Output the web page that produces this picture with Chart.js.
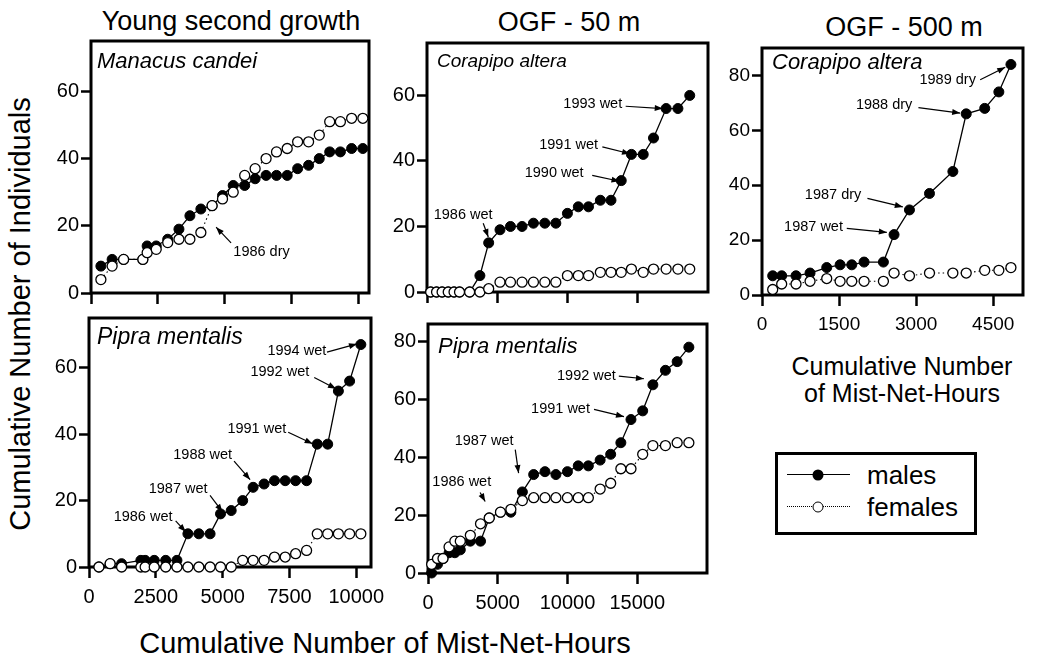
<!DOCTYPE html>
<html>
<head>
<meta charset="utf-8">
<script src="https://cdn.jsdelivr.net/npm/chart.js@4.4.1/dist/chart.umd.min.js"></script>
<style>
    body { margin: 0; width: 1048px; height: 661px; position: relative; overflow: hidden; background: #fff;
           font-family: "Liberation Sans", Arial, sans-serif; color: #000; }
    canvas { position: absolute; }
    .txt { position: absolute; white-space: nowrap; line-height: 1; transform: translate(-50%, -50%); }
    .legend-box { position: absolute; left: 775px; top: 452px; width: 202px; height: 83px; border: 3px solid #000; box-sizing: border-box; }
    .swatch { position: absolute; width: 63px; height: 0; }
    .dot { position: absolute; width: 11px; height: 11px; border-radius: 50%; box-sizing: border-box; transform: translate(-50%, -50%); }
</style>
</head>
<body>

<div class="txt" style="left:231px; top:21px; font-size:27px;">Young second growth</div>
<div class="txt" style="left:569px; top:22px; font-size:27px;">OGF - 50 m</div>
<div class="txt" style="left:904px; top:27px; font-size:27px;">OGF - 500 m</div>

<div class="txt" style="left:20px; top:314px; font-size:29px; transform: translate(-50%, -50%) rotate(-90deg);">Cumulative Number of Individuals</div>
<div class="txt" style="left:385px; top:643px; font-size:29px;">Cumulative Number of Mist-Net-Hours</div>
<div class="txt" style="left:902px; top:366px; font-size:25px;">Cumulative Number</div>
<div class="txt" style="left:902px; top:393px; font-size:25px;">of Mist-Net-Hours</div>

<canvas id="panel-a"></canvas>
<canvas id="panel-b"></canvas>
<canvas id="panel-c"></canvas>
<canvas id="panel-d"></canvas>
<canvas id="panel-e"></canvas>

<div class="legend-box"></div>
<div class="swatch" style="left:787px; top:474px; border-top:1.5px solid #000;"></div>
<div class="dot" style="left:818px; top:475px; background:#000;"></div>
<div class="txt" style="left:867px; top:475px; font-size:26px; transform: translate(0, -50%);">males</div>
<div class="swatch" style="left:787px; top:506px; border-top:1.5px dotted #000;"></div>
<div class="dot" style="left:818px; top:507px; background:#fff; border:1.5px solid #000;"></div>
<div class="txt" style="left:867px; top:507px; font-size:26px; transform: translate(0, -50%);">females</div>

<script>
const FONT = '"Liberation Sans", Arial, sans-serif';

// cumulative mist-net-hours at each sample, per site
const hoursYSG = [370, 790, 1220, 1940, 2100, 2440, 2870, 3290, 3700, 4110, 4530, 4920, 5320,
    5750, 6140, 6550, 6940, 7340, 7730, 8140, 8540, 8930, 9330, 9750, 10170];
const hoursOGF50 = [260, 680, 1075, 1510, 1925, 2315, 3035, 3765, 4390, 5195, 5940, 6765, 7575,
    8385, 9170, 9995, 10770, 11495, 12340, 13095, 13825, 14550, 15390, 16120, 17020, 17860, 18700];
const hoursOGF500 = [208, 383, 662, 935, 1260, 1520, 1747, 1987, 2363, 2570, 2870, 3260, 3715,
    3975, 4335, 4610, 4845];

// cumulative number of individuals
const manacusMales = [8, 10, 10, 10, 14, 14, 16, 19, 23, 25, 26, 29, 32, 32, 34, 35, 35, 35, 37, 38, 40, 42, 42, 43, 43];
const manacusFemales = [4, 8, 10, 10, 12, 13, 15, 16, 16, 18, 26, 28, 30, 35, 37, 40, 42, 43, 45, 45, 47, 51, 51, 52, 52];

const pipraYsgMales = [0, 1, 1, 2, 2, 2, 2, 2, 10, 10, 10, 16, 17, 20, 24, 25, 26, 26, 26, 26, 37, 37, 53, 56, 67];
const pipraYsgFemales = [0, 1, 0, 0, 0, 0, 0, 0, 0, 0, 0, 0, 0, 2, 2, 2, 3, 3, 4, 5, 10, 10, 10, 10, 10];

const corapipo50Males = [0, 0, 0, 0, 0, 0, 0, 5, 15, 19, 20, 20, 21, 21, 21, 24, 26, 26, 28, 28, 34, 42, 42, 47, 56, 56, 60];
const corapipo50Females = [0, 0, 0, 0, 0, 0, 0, 0, 1, 3, 3, 3, 3, 3, 3, 5, 5, 5, 6, 6, 6, 7, 6, 7, 7, 7, 7];

const pipra50Males = [0, 3, 5, 7, 7, 8, 11, 11, 19, 21, 21, 28, 34, 35, 34, 35, 37, 37, 39, 41, 45, 53, 56, 65, 70, 73, 78];
const pipra50Females = [3, 5, 5, 9, 11, 11, 13, 17, 19, 21, 22, 25, 26, 26, 26, 26, 26, 26, 29, 31, 36, 36, 41, 44, 44, 45, 45];

const corapipo500Males = [7, 7, 7, 8, 10, 11, 11, 12, 12, 22, 31, 37, 45, 66, 68, 74, 84];
const corapipo500Females = [2, 4, 4, 5, 6, 5, 5, 5, 5, 8, 7, 8, 8, 8, 9, 9, 10];

// tick values
const ticksYSG = [0, 2500, 5000, 7500, 10000];
const ticksOGF50 = [0, 5000, 10000, 15000];
const ticksOGF500 = [0, 1500, 3000, 4500];
const ticksY60 = [0, 20, 40, 60];
const ticksY80 = [0, 20, 40, 60, 80];

// season labels: text centre and arrow, in data units
const notesA = [
    { text: "1986 dry", at: [6380, 12.2], from: [5240, 14.9], to: [4680, 19.6] }
];
const notesB = [
    { text: "1986 wet", at: [2570, 23.5], from: [4000, 21], to: [4360, 16.8] },
    { text: "1990 wet", at: [9050, 36.2], from: [11760, 35.6], to: [13700, 33.8] },
    { text: "1991 wet", at: [10080, 44.9], from: [12480, 44.3], to: [14450, 42.2] },
    { text: "1993 wet", at: [11800, 57.4], from: [14140, 56.7], to: [16780, 56] }
];
const notesC = [
    { text: "1989 dry", at: [3614, 78.2], from: [4247, 78.4], to: [4734, 83] },
    { text: "1988 dry", at: [2377, 69.1], from: [3045, 68.3], to: [3857, 66.3] },
    { text: "1987 dry", at: [1383, 36.4], from: [2052, 35.2], to: [2741, 32.1] },
    { text: "1987 wet", at: [1003, 24.6], from: [1650, 24.3], to: [2430, 22.8] }
];
const notesD = [
    { text: "1994 wet", at: [7776, 65.2], from: [8902, 64.7], to: [10026, 67.2] },
    { text: "1992 wet", at: [7140, 58.6], from: [8426, 57.1], to: [9239, 53.7] },
    { text: "1991 wet", at: [6278, 41.7], from: [7452, 40.6], to: [8366, 37.1] },
    { text: "1988 wet", at: [4254, 33.6], from: [5427, 31.9], to: [6027, 26.3] },
    { text: "1987 wet", at: [3336, 23.6], from: [4528, 21.6], to: [4993, 16.6] },
    { text: "1986 wet", at: [2024, 15.1], from: [3242, 13.9], to: [3617, 10.6] }
];
const notesE = [
    { text: "1986 wet", at: [2421, 31.3], from: [3738, 27.8], to: [4098, 24.7] },
    { text: "1987 wet", at: [4026, 45.5], from: [6255, 42.6], to: [6494, 34.5] },
    { text: "1991 wet", at: [9500, 56.8], from: [11900, 56.5], to: [14050, 54] },
    { text: "1992 wet", at: [11360, 68], from: [13680, 68], to: [15480, 67.1] }
];

const L = 62, R = 40, T = 12, B = 52;
const panelInfo = {};

const toPoints = (hours, counts) => hours.map((h, i) => ({ x: h, y: counts[i] }));

const panelPlugin = {
    id: 'panelBox',
    beforeDatasetsDraw(chart) {
        const { ctx, chartArea: a } = chart;
        ctx.save();
        ctx.lineWidth = 3;
        ctx.strokeStyle = '#000';
        ctx.strokeRect(a.left, a.top, a.right - a.left, a.bottom - a.top);
        ctx.restore();
    },
    afterDatasetsDraw(chart) {
        const info = panelInfo[chart.canvas.id];
        const { ctx, chartArea: a } = chart;
        const x = chart.scales.x, y = chart.scales.y;
        ctx.save();
        ctx.fillStyle = '#000';
        ctx.strokeStyle = '#000';
        ctx.font = '14.5px ' + FONT;
        ctx.textAlign = 'center';
        ctx.textBaseline = 'middle';
        for (const n of info.notes) {
            ctx.fillText(n.text, x.getPixelForValue(n.at[0]), y.getPixelForValue(n.at[1]));
            const x1 = x.getPixelForValue(n.from[0]), y1 = y.getPixelForValue(n.from[1]);
            const x2 = x.getPixelForValue(n.to[0]), y2 = y.getPixelForValue(n.to[1]);
            ctx.lineWidth = 1.2;
            ctx.beginPath();
            ctx.moveTo(x1, y1);
            ctx.lineTo(x2, y2);
            ctx.stroke();
            const ang = Math.atan2(y2 - y1, x2 - x1);
            const c = Math.cos(ang), s = Math.sin(ang);
            ctx.beginPath();
            ctx.moveTo(x2, y2);
            ctx.lineTo(x2 - 8 * c + 3 * s, y2 - 8 * s - 3 * c);
            ctx.lineTo(x2 - 8 * c - 3 * s, y2 - 8 * s + 3 * c);
            ctx.closePath();
            ctx.fill();
        }
        ctx.font = 'italic ' + info.size + 'px ' + FONT;
        ctx.textAlign = 'left';
        ctx.fillText(info.species, a.left + info.dx, a.top + info.dy);
        ctx.restore();
    }
};

function makePanel(id, p) {
    const canvas = document.getElementById(id);
    const [left, top, right, bottom] = p.area;
    canvas.width = right - left + L + R;
    canvas.height = bottom - top + T + B;
    canvas.style.left = (left - L) + 'px';
    canvas.style.top = (top - T) + 'px';
    panelInfo[id] = { notes: p.notes, species: p.species, size: p.size, dx: p.dx, dy: p.dy };

    return new Chart(canvas, {
        type: 'scatter',
        data: {
            datasets: [
                {
                    label: 'females',
                    data: toPoints(p.hours, p.females),
                    showLine: true,
                    borderColor: '#000',
                    borderWidth: 1.1,
                    borderDash: [1.5, 3],
                    pointRadius: 5,
                    pointBackgroundColor: '#fff',
                    pointBorderColor: '#000',
                    pointBorderWidth: 1.3,
                    clip: false,
                    order: 0
                },
                {
                    label: 'males',
                    data: toPoints(p.hours, p.males),
                    showLine: true,
                    borderColor: '#000',
                    borderWidth: 1.3,
                    pointRadius: 5,
                    pointBackgroundColor: '#000',
                    pointBorderColor: '#000',
                    pointBorderWidth: 1,
                    clip: false,
                    order: 1
                }
            ]
        },
        options: {
            responsive: false,
            animation: false,
            devicePixelRatio: 1,
            events: [],
            layout: { padding: { top: T, right: R, left: 0, bottom: 0 } },
            scales: {
                x: {
                    type: 'linear',
                    min: 0,
                    max: p.xMax,
                    afterBuildTicks: s => { s.ticks = p.xTicks.map(v => ({ value: v })); },
                    afterFit: s => { s.height = B; s.paddingLeft = 0; s.paddingRight = 0; },
                    border: { display: false },
                    grid: { drawOnChartArea: false, drawTicks: true, tickLength: 11, tickWidth: 2.5, tickColor: '#000' },
                    ticks: {
                        display: p.xLabels, color: '#000', font: { family: FONT, size: p.tickSize },
                        padding: 7, maxRotation: 0, autoSkip: false,
                        callback: v => String(v)
                    }
                },
                y: {
                    type: 'linear',
                    min: 0,
                    max: p.yMax,
                    afterBuildTicks: s => { s.ticks = p.yTicks.map(v => ({ value: v })); },
                    afterFit: s => { s.width = L; s.paddingTop = 0; s.paddingBottom = 0; },
                    border: { display: false },
                    grid: { drawOnChartArea: false, drawTicks: true, tickLength: 10, tickWidth: 2.5, tickColor: '#000' },
                    ticks: {
                        color: '#000', font: { family: FONT, size: p.tickSize }, padding: 2, autoSkip: false,
                        callback: v => String(v)
                    }
                }
            },
            plugins: {
                legend: { display: false },
                tooltip: { enabled: false }
            }
        },
        plugins: [panelPlugin]
    });
}

makePanel('panel-a', {
    area: [91, 41, 369, 293], xMax: 10400, yMax: 75, xTicks: ticksYSG, yTicks: ticksY60, xLabels: false, tickSize: 20,
    hours: hoursYSG, males: manacusMales, females: manacusFemales,
    species: 'Manacus candei', size: 22, dx: 6, dy: 21, notes: notesA
});
makePanel('panel-b', {
    area: [427, 43, 708, 292], xMax: 20000, yMax: 76, xTicks: ticksOGF50, yTicks: ticksY60, xLabels: false, tickSize: 20,
    hours: hoursOGF50, males: corapipo50Males, females: corapipo50Females,
    species: 'Corapipo altera', size: 19, dx: 10, dy: 19, notes: notesB
});
makePanel('panel-c', {
    area: [762, 48, 1023, 295], xMax: 5080, yMax: 90, xTicks: ticksOGF500, yTicks: ticksY80, xLabels: true, tickSize: 19,
    hours: hoursOGF500, males: corapipo500Males, females: corapipo500Females,
    species: 'Corapipo altera', size: 22, dx: 10, dy: 15, notes: notesC
});
makePanel('panel-d', {
    area: [89, 318, 371, 567], xMax: 10550, yMax: 75, xTicks: ticksYSG, yTicks: ticksY60, xLabels: true, tickSize: 20,
    hours: hoursYSG, males: pipraYsgMales, females: pipraYsgFemales,
    species: 'Pipra mentalis', size: 23, dx: 8, dy: 20, notes: notesD
});
makePanel('panel-e', {
    area: [428, 324, 707, 573], xMax: 20000, yMax: 86, xTicks: ticksOGF50, yTicks: ticksY80, xLabels: true, tickSize: 20,
    hours: hoursOGF50, males: pipra50Males, females: pipra50Females,
    species: 'Pipra mentalis', size: 22, dx: 10, dy: 23, notes: notesE
});
</script>
</body>
</html>
